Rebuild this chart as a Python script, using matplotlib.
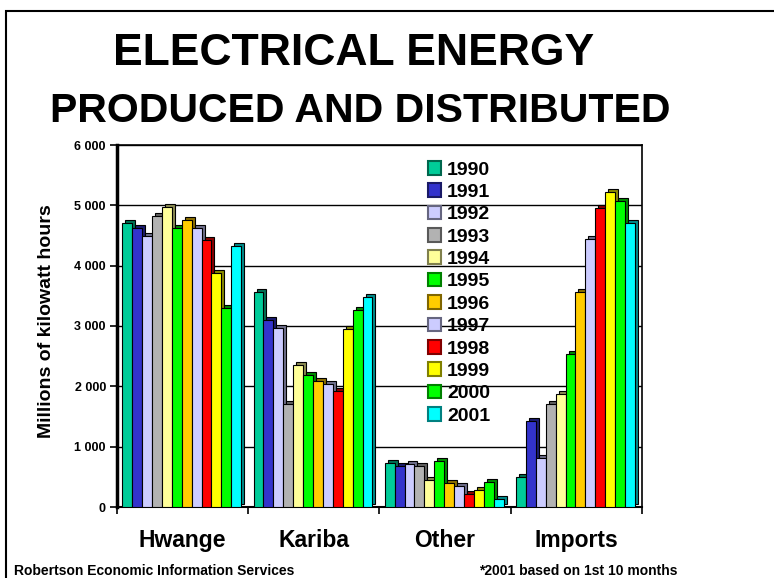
import numpy as np
import matplotlib
matplotlib.use('Agg')
import matplotlib.pyplot as plt
import matplotlib.transforms as mtransforms
import matplotlib.colors as mcolors
from matplotlib.patches import Patch, Rectangle

# data (millions of kWh), one value per year 1990..2001
categories = ['Hwange', 'Kariba', 'Other', 'Imports']
years = ['1990', '1991', '1992', '1993', '1994', '1995',
         '1996', '1997', '1998', '1999', '2000', '2001']
hwange = [4700, 4620, 4500, 4820, 4980, 4620, 4760, 4620, 4420, 3880, 3300, 4330]
kariba = [3570, 3100, 2970, 1700, 2350, 2180, 2090, 2040, 1920, 2950, 3270, 3480]
other = [730, 680, 720, 680, 440, 770, 400, 350, 220, 280, 410, 130]
imports = [500, 1430, 810, 1700, 1880, 2530, 3560, 4450, 4950, 5220, 5080, 4700]
colors = ['#00CC99', '#3333CC', '#CCCCFF', '#B2B2B2', '#FFFF99', '#00FF00',
          '#FFCC00', '#CCCCFF', '#FF0000', '#FFFF00', '#00FF00', '#00FFFF']
yticks = [0, 1000, 2000, 3000, 4000, 5000, 6000]
ytick_labels = ['0', '1 000', '2 000', '3 000', '4 000', '5 000', '6 000']

plt.rcParams['font.family'] = ['Liberation Sans', 'DejaVu Sans']
plt.rcParams['font.weight'] = 'bold'


def darken(c, f=0.55):
    r, g, b = mcolors.to_rgb(c)
    return (r * f, g * f, b * f)


values = np.array([hwange, kariba, other, imports])

W, H = 774, 578
fig = plt.figure(figsize=(W / 100, H / 100), dpi=100)
ax = fig.add_axes([117 / W, 1 - 507 / H, 525 / W, 362 / H])

x = np.arange(len(categories))
pitch = 0.0755
start = -0.46
# fake 3d depth: a darker copy shifted up/right sits behind each bar
shift = mtransforms.ScaledTranslation(0.03, 0.03, fig.dpi_scale_trans)

for k in range(len(years)):
    xs = x + start + k * pitch
    back = ax.bar(xs, values[:, k], width=pitch, align='edge',
                  color=darken(colors[k]), edgecolor='black', lw=0.8, zorder=2)
    for p in back:
        p.set_transform(ax.transData + shift)
    ax.bar(xs, values[:, k], width=pitch, align='edge',
           color=colors[k], edgecolor='black', lw=0.8, zorder=3)

ax.set_xlim(-0.5, len(categories) - 0.5)
ax.set_ylim(0, 6000)

ax.set_xticks(np.arange(len(categories) + 1) - 0.5)
ax.set_xticklabels([])
ax.set_xticks(x, minor=True)
ax.set_xticklabels(categories, minor=True, fontsize=16.5, fontweight='bold')
ax.tick_params(axis='x', which='minor', length=0, pad=16)
ax.tick_params(axis='x', which='major', direction='out', length=5, width=1.2)

ax.set_yticks(yticks)
ax.set_yticklabels(ytick_labels, fontsize=9, fontweight='bold')
ax.tick_params(axis='y', direction='out', length=5, width=1.2, pad=3)

ax.yaxis.grid(True, color='black', lw=1)
ax.set_axisbelow(True)

for side in ['top', 'right']:
    ax.spines[side].set_linewidth(1.2)
ax.spines['left'].set_linewidth(2.5)
ax.spines['bottom'].set_linewidth(1.5)

handles = [Patch(facecolor=c, edgecolor=darken(c, 0.5), lw=1.5) for c in colors]
ax.legend(handles, years, loc='upper left', bbox_to_anchor=(0.592, 0.956),
          frameon=False, prop={'size': 14, 'weight': 'bold'},
          handlelength=0.7, handleheight=0.7, handletextpad=0.3,
          labelspacing=0.245, borderpad=0, borderaxespad=0)

fig.text(354 / W, 1 - 65 / H, 'ELECTRICAL ENERGY', ha='center', va='baseline',
         fontsize=32, fontweight='bold')
fig.text(360 / W, 1 - 122 / H, 'PRODUCED AND DISTRIBUTED', ha='center',
         va='baseline', fontsize=29.5, fontweight='bold')
fig.text(47 / W, 1 - 321 / H, 'Millions of kilowatt hours', rotation=90,
         ha='center', va='center', fontsize=14, fontweight='bold')
fig.text(14 / W, 1 - 575 / H, 'Robertson Economic Information Services',
         ha='left', va='baseline', fontsize=10, fontweight='bold')
fig.text(479 / W, 1 - 575 / H, '*2001 based on 1st 10 months',
         ha='left', va='baseline', fontsize=10, fontweight='bold')

# outer frame of the slide
fig.patches.append(Rectangle((6 / W, -0.1), 2, 1 - 11 / H + 0.1,
                             transform=fig.transFigure, fill=False,
                             edgecolor='black', lw=1.5))

fig.savefig('out.png', dpi=100)
